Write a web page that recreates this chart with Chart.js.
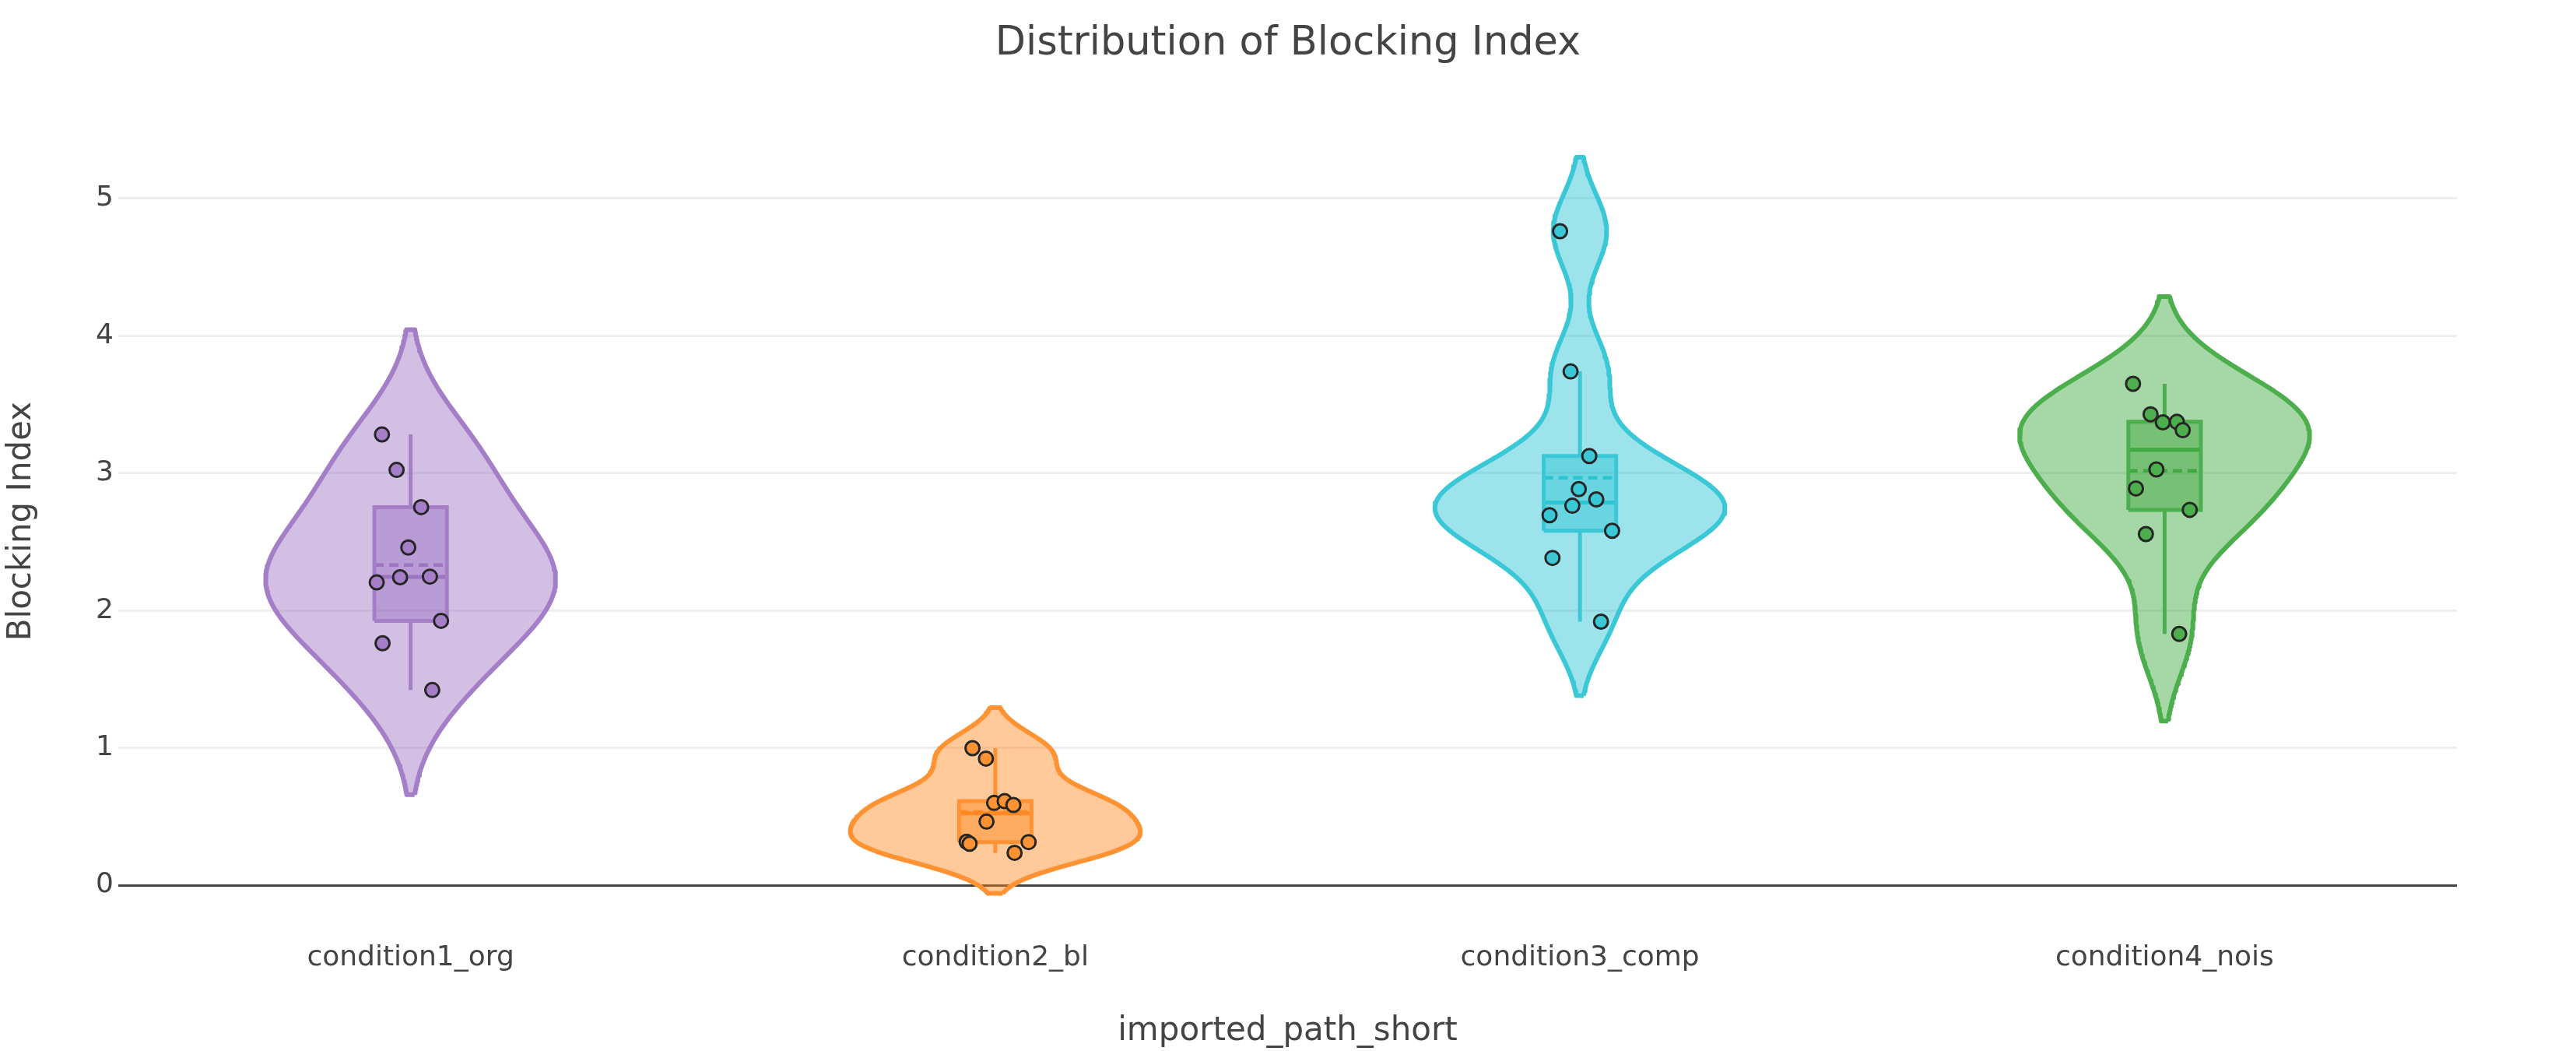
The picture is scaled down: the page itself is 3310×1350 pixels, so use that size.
<!DOCTYPE html>
<html>
<head>
<meta charset="utf-8">
<title>Distribution of Blocking Index</title>
<script src="https://cdn.jsdelivr.net/npm/chart.js@4.4.1/dist/chart.umd.min.js"></script>
<style>
  html, body { margin: 0; padding: 0; background: #fff; }
  #wrap { width: 3310px; height: 1350px; position: relative; }
</style>
</head>
<body>
<div id="wrap"><canvas id="chart"></canvas></div>
<script>
// -----------------------------------------------------------------------------
// Data
// -----------------------------------------------------------------------------

const categories = ['condition1_org', 'condition2_bl', 'condition3_comp', 'condition4_nois'];
const colors = ['#9467bd', '#ff7f0e', '#17becf', '#2ca02c'];

// Blocking Index per sample
const org = [3.282, 3.024, 2.753, 2.459, 2.205, 2.242, 2.247, 1.925, 1.762, 1.421];
const bl = [0.998, 0.922, 0.599, 0.612, 0.584, 0.463, 0.316, 0.302, 0.314, 0.236];
const comp = [4.762, 3.741, 3.125, 2.884, 2.809, 2.763, 2.694, 2.581, 2.383, 1.919];
const nois = [3.651, 3.429, 3.370, 3.374, 3.313, 3.027, 2.889, 2.733, 2.557, 1.830];

// horizontal jitter of each sample point (category units)
const orgJitter = [-0.049, -0.024, 0.018, -0.004, -0.058, -0.018, 0.033, 0.052, -0.048, 0.037];
const blJitter = [-0.039, -0.016, -0.002, 0.016, 0.031, -0.015, -0.049, -0.044, 0.057, 0.033];
const compJitter = [-0.034, -0.016, 0.016, -0.002, 0.028, -0.013, -0.052, 0.055, -0.047, 0.036];
const noisJitter = [-0.054, -0.024, -0.003, 0.021, 0.031, -0.014, -0.049, 0.043, -0.032, 0.025];

const yTicks = [0, 1, 2, 3, 4, 5];

const groups = [org, bl, comp, nois];
const jitters = [orgJitter, blJitter, compJitter, noisJitter];

// -----------------------------------------------------------------------------
// Violin statistics (same rules plotly uses: Silverman bandwidth, soft span)
// -----------------------------------------------------------------------------

const VIOLIN_HALF = 0.248;
const BOX_HALF = 0.062;
const TRACE_OPACITY = 0.85;

function median(arr) {
  const m = arr.length;
  return m % 2 ? arr[(m - 1) / 2] : (arr[m / 2 - 1] + arr[m / 2]) / 2;
}

function stats(vals) {
  const s = vals.slice().sort((a, b) => a - b);
  const n = s.length;
  const q1 = median(s.slice(0, Math.floor(n / 2)));
  const q3 = median(s.slice(Math.ceil(n / 2)));
  const mean = s.reduce((a, b) => a + b, 0) / n;
  const sd = Math.sqrt(s.reduce((a, v) => a + (v - mean) * (v - mean), 0) / (n - 1));
  const iqr = q3 - q1;
  const bw = 1.059 * Math.min(sd, iqr / 1.349) * Math.pow(n, -0.2);
  const loFence = q1 - 1.5 * iqr;
  const hiFence = q3 + 1.5 * iqr;
  const inside = s.filter((v) => v >= loFence && v <= hiFence);
  return {
    sorted: s, q1, q3, mean, bw,
    med: median(s),
    lo: inside[0], hi: inside[inside.length - 1],
  };
}

function kde(vals, bw) {
  const f = 1 / (vals.length * bw * Math.sqrt(2 * Math.PI));
  return (x) => {
    let sum = 0;
    for (const v of vals) {
      const u = (x - v) / bw;
      sum += Math.exp(-0.5 * u * u);
    }
    return f * sum;
  };
}

function violinOutline(i, vals, st) {
  const dens = kde(vals, st.bw);
  const y0 = st.sorted[0] - 2 * st.bw;
  const y1 = st.sorted[st.sorted.length - 1] + 2 * st.bw;
  const steps = 240;
  const ys = [];
  for (let k = 0; k <= steps; k += 1) ys.push(y0 + (y1 - y0) * k / steps);
  const ds = ys.map(dens);
  const dmax = Math.max(...ds);
  const right = ys.map((y, k) => ({ x: i + VIOLIN_HALF * ds[k] / dmax, y }));
  const left = ys.map((y, k) => ({ x: i - VIOLIN_HALF * ds[k] / dmax, y })).reverse();
  return right.concat(left, [right[0]]);
}

function rgb(hex) {
  const n = parseInt(hex.slice(1), 16);
  return [(n >> 16) & 255, (n >> 8) & 255, n & 255];
}

function rgba(hex, a) {
  const [r, g, b] = rgb(hex);
  return `rgba(${r}, ${g}, ${b}, ${a})`;
}

// solid colour as it looks once the trace opacity is laid over white
function faded(hex) {
  const [r, g, b] = rgb(hex).map((c) => Math.round(c * TRACE_OPACITY + 255 * (1 - TRACE_OPACITY)));
  return `rgb(${r}, ${g}, ${b})`;
}

// -----------------------------------------------------------------------------
// Datasets
// -----------------------------------------------------------------------------

const datasets = [];
groups.forEach((vals, i) => {
  const st = stats(vals);
  const line = faded(colors[i]);
  const lineBase = {
    type: 'scatter', showLine: true, pointRadius: 0, borderColor: line,
    borderWidth: 5, fill: false, order: 2,
  };

  datasets.push({
    type: 'scatter',
    data: violinOutline(i, vals, st),
    showLine: true,
    fill: 'shape',
    backgroundColor: rgba(colors[i], 0.5 * TRACE_OPACITY),
    borderColor: line,
    borderWidth: 6,
    borderJoinStyle: 'round',
    pointRadius: 0,
    order: 3,
  });

  // box body
  datasets.push({
    ...lineBase,
    data: [
      { x: i - BOX_HALF, y: st.q1 }, { x: i + BOX_HALF, y: st.q1 },
      { x: i + BOX_HALF, y: st.q3 }, { x: i - BOX_HALF, y: st.q3 },
      { x: i - BOX_HALF, y: st.q1 },
    ],
    fill: 'shape',
    backgroundColor: rgba(colors[i], 0.4),
  });

  // whiskers
  datasets.push({
    ...lineBase,
    data: [
      { x: i, y: st.q3 }, { x: i, y: st.hi }, { x: i, y: null },
      { x: i, y: st.q1 }, { x: i, y: st.lo },
    ],
    spanGaps: false,
  });

  // median
  datasets.push({
    ...lineBase,
    data: [{ x: i - BOX_HALF, y: st.med }, { x: i + BOX_HALF, y: st.med }],
  });

  // mean
  datasets.push({
    ...lineBase,
    data: [{ x: i - BOX_HALF, y: st.mean }, { x: i + BOX_HALF, y: st.mean }],
    borderWidth: 4.5,
    borderDash: [12, 7],
  });

  // sample points
  datasets.push({
    type: 'scatter',
    data: vals.map((v, k) => ({ x: i + jitters[i][k], y: v })),
    showLine: false,
    pointRadius: 9,
    pointBackgroundColor: line,
    pointBorderColor: '#262626',
    pointBorderWidth: 3,
    order: 1,
  });
});

// -----------------------------------------------------------------------------
// Chart
// -----------------------------------------------------------------------------

Chart.defaults.font.family = '"DejaVu Sans", Verdana, sans-serif';
Chart.defaults.color = '#444';

new Chart(document.getElementById('chart'), {
  type: 'scatter',
  data: { datasets },
  options: {
    animation: false,
    responsive: true,
    maintainAspectRatio: false,
    devicePixelRatio: 1,
    layout: { padding: 0 },
    plugins: {
      legend: { display: false },
      tooltip: { enabled: false },
      title: {
        display: true,
        text: 'Distribution of Blocking Index',
        color: '#444',
        font: { size: 51, weight: 'normal' },
        padding: { top: 26, bottom: 88.4 },
      },
    },
    scales: {
      x: {
        type: 'linear',
        min: -0.5,
        max: 3.5,
        afterBuildTicks: (axis) => { axis.ticks = categories.map((c, k) => ({ value: k })); },
        afterFit: (axis) => { axis.height = 186.5; },
        ticks: {
          callback: (v) => categories[v],
          font: { size: 36 },
          color: '#444',
          padding: 46,
          autoSkip: false,
          maxRotation: 0,
        },
        grid: { display: false, drawTicks: false },
        border: { display: false },
        title: {
          display: true,
          text: 'imported_path_short',
          color: '#444',
          font: { size: 42 },
          padding: { top: 0, bottom: 0 },
        },
      },
      y: {
        type: 'linear',
        min: -0.15,
        max: 5.45,
        afterBuildTicks: (axis) => { axis.ticks = yTicks.map((v) => ({ value: v })); },
        afterFit: (axis) => { axis.width = 152; },
        ticks: {
          font: { size: 36 },
          color: '#444',
          padding: 6,
        },
        grid: {
          drawTicks: false,
          color: (ctx) => (ctx.tick && ctx.tick.value === 0 ? '#444' : '#eeeeee'),
          lineWidth: 3,
        },
        border: { display: false },
        title: {
          display: true,
          text: 'Blocking Index',
          color: '#444',
          font: { size: 42 },
          padding: { top: 3, bottom: 0 },
        },
      },
      // empty right-hand margin, keeps the title centred on the page
      yRight: {
        type: 'linear',
        axis: 'y',
        position: 'right',
        display: true,
        afterFit: (axis) => { axis.width = 153; },
        ticks: { display: false },
        grid: { display: false, drawTicks: false },
        border: { display: false },
      },
    },
  },
});
</script>
</body>
</html>
